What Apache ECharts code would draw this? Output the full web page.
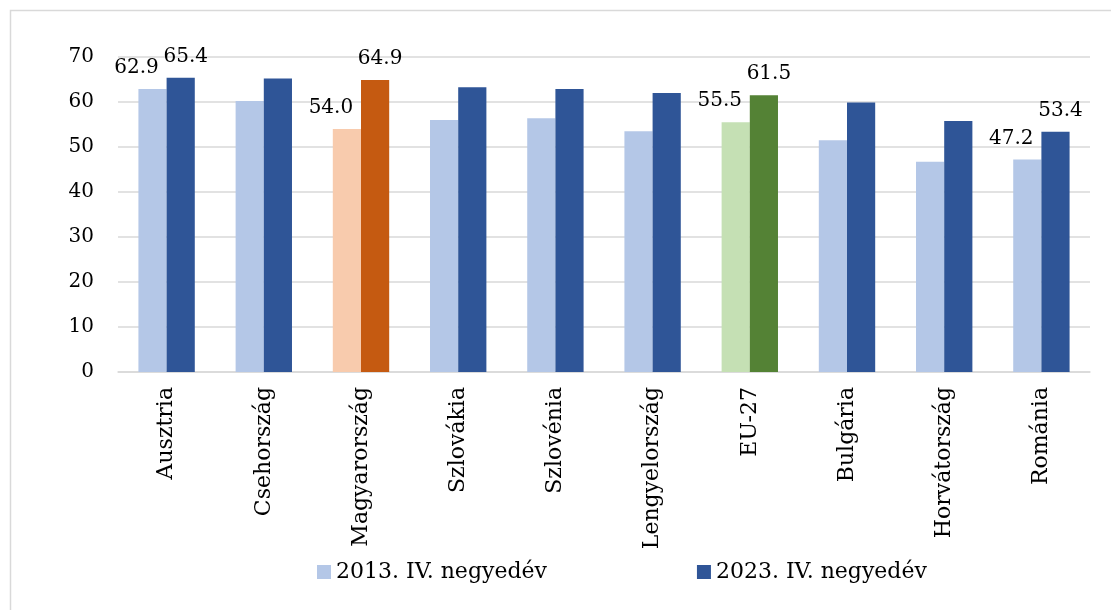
<!DOCTYPE html>
<html>
<head>
<meta charset="utf-8">
<script src="https://cdn.jsdelivr.net/npm/echarts@6/dist/echarts.min.js"></script>
<style>
  html, body { margin: 0; padding: 0; background: #fff; }
  #chart { width: 1111px; height: 610px; }
</style>
</head>
<body>
<div id="chart"></div>
<script>
// adatok
const categories = ["Ausztria", "Csehország", "Magyarország", "Szlovákia", "Szlovénia",
  "Lengyelország", "EU-27", "Bulgária", "Horvátország", "Románia"];
const values2013 = [62.9, 60.2, 54.0, 56.0, 56.4, 53.5, 55.5, 51.5, 46.7, 47.2];
const values2023 = [65.4, 65.2, 64.9, 63.3, 62.9, 62.0, 61.5, 59.9, 55.8, 53.4];
const seriesNames = ["2013. IV. negyedév", "2023. IV. negyedév"];
const labelled = ["Ausztria", "Magyarország", "EU-27", "Románia"];

const font = "'DejaVu Serif', 'Liberation Serif', serif";
const light = "#B4C7E7", dark = "#2F5597";
const highlight = {
  "Magyarország": ["#F8CBAD", "#C55A11"],
  "EU-27": ["#C5E0B4", "#548235"]
};

function buildData(values, idx, offsetX) {
  return values.map((v, i) => {
    const name = categories[i];
    const item = { value: v };
    if (highlight[name]) {
      item.itemStyle = { color: highlight[name][idx] };
    }
    if (labelled.includes(name)) {
      item.label = { show: true, offset: [offsetX, 0] };
    }
    return item;
  });
}

const labelStyle = {
  show: false, position: "top", distance: 11,
  fontFamily: font, fontSize: 20, color: "#000",
  formatter: p => p.value.toFixed(1)
};

const chart = echarts.init(document.getElementById("chart"));
chart.setOption({
  animation: false,
  textStyle: { fontFamily: font },
  graphic: [{
    type: "rect",
    left: 8, top: 8,
    shape: { width: 1200, height: 700 },
    style: { fill: "none", stroke: "#D9D9D9", lineWidth: 1.5 },
    silent: true
  }],
  grid: { left: 118, right: 21, top: 57, bottom: 238 },
  legend: {
    bottom: 22,
    left: 312,
    itemWidth: 14,
    itemHeight: 14,
    itemGap: 150,
    icon: "rect",
    textStyle: { fontFamily: font, fontSize: 22, color: "#000" },
    data: seriesNames
  },
  xAxis: {
    type: "category",
    data: categories,
    axisLine: { lineStyle: { color: "#D9D9D9", width: 1.5 } },
    axisTick: { show: false },
    axisLabel: {
      rotate: 90,
      interval: 0,
      margin: 15,
      fontFamily: font,
      fontSize: 22,
      color: "#000"
    }
  },
  yAxis: {
    type: "value",
    min: 0, max: 70, interval: 10,
    axisLine: { show: false },
    axisTick: { show: false },
    splitLine: { lineStyle: { color: "#D9D9D9", width: 1.5 } },
    axisLabel: { fontFamily: font, fontSize: 20, color: "#000", margin: 24 }
  },
  series: [
    {
      name: seriesNames[0],
      type: "bar",
      barGap: "0%",
      barCategoryGap: "42%",
      itemStyle: { color: light },
      label: labelStyle,
      data: buildData(values2013, 0, -16)
    },
    {
      name: seriesNames[1],
      type: "bar",
      itemStyle: { color: dark },
      label: labelStyle,
      data: buildData(values2023, 1, 5)
    }
  ]
});
</script>
</body>
</html>
